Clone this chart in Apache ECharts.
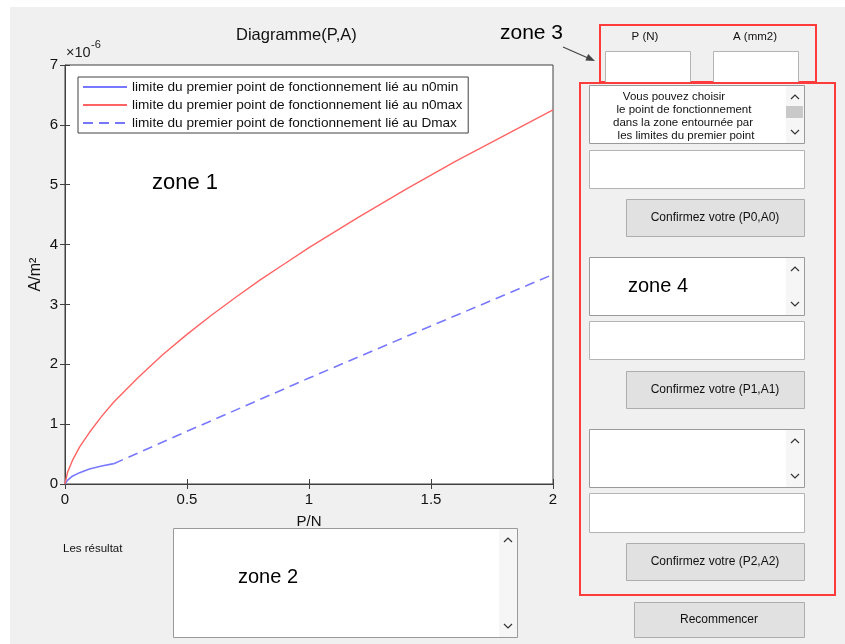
<!DOCTYPE html>
<html>
<head>
<meta charset="utf-8">
<script src="https://cdn.jsdelivr.net/npm/echarts@6/dist/echarts.min.js"></script>
<style>
html,body{margin:0;padding:0;background:#fff;}
#chart{width:845px;height:644px;}
</style>
</head>
<body>
<div id="chart"></div>
<script>
// ---- data (A in units of 1e-6) ----
const xTicks = [0, 0.5, 1, 1.5, 2];
const yTicks = [0, 1, 2, 3, 4, 5, 6, 7];
const seriesNames = [
  'limite du premier point de fonctionnement lié au n0min',
  'limite du premier point de fonctionnement lié au n0max',
  'limite du premier point de fonctionnement lié au Dmax'
];
const pMin = [0, 0.01, 0.03, 0.06, 0.1, 0.15, 0.2];
const aMin = [0, 0.06, 0.13, 0.19, 0.25, 0.30, 0.34];
const pMax = [0, 0.01, 0.03, 0.06, 0.1, 0.15, 0.2, 0.3, 0.4, 0.5, 0.6, 0.7, 0.8, 0.9, 1.0, 1.2, 1.4, 1.6, 1.8, 2.0];
const aMax = [0, 0.19, 0.39, 0.62, 0.86, 1.13, 1.37, 1.78, 2.16, 2.50, 2.82, 3.12, 3.41, 3.68, 3.95, 4.45, 4.93, 5.39, 5.82, 6.25];
const pD = [0.2, 0.5, 1.0, 1.5, 2.0];
const aD = [0.34, 0.88, 1.77, 2.64, 3.50];

const zip = (xs, ys) => xs.map((x, i) => [x, ys[i]]);
const FONT = 'Liberation Sans';
const AX = '#404040';

// ---- GUI decoration helpers ----
const G = [];
function rect(x, y, w, h, fill, stroke, lw) {
  G.push({type: 'rect', shape: {x: x, y: y, width: w, height: h},
    style: {fill: fill, stroke: stroke || null, lineWidth: lw || 1}, silent: true});
}
function text(x, y, t, size, align, color) {
  G.push({type: 'text', x: x, y: y, silent: true,
    style: {text: t, font: size + 'px ' + FONT, fill: color || '#111',
      textAlign: align || 'left', textVerticalAlign: 'middle'}});
}
function chevron(x, y, up) {
  const d = up ? -2 : 2;
  G.push({type: 'polyline', silent: true,
    shape: {points: [[x - 4, y - d], [x, y + d], [x + 4, y - d]]},
    style: {stroke: '#333', lineWidth: 1.2, fill: null}});
}
function listBox(x, y, w, h) {
  rect(x + 0.5, y + 0.5, w, h, '#fff', '#9a9a9a', 1);
  rect(x + w - 18, y + 1, 18, h - 1, '#f6f6f6', null);
  chevron(x + w - 9, y + 12, true);
  chevron(x + w - 9, y + h - 11, false);
}
function editBox(x, y, w, h) { rect(x + 0.5, y + 0.5, w, h, '#fff', '#b4b4b4', 1); }
function button(x, y, w, h, label) {
  rect(x + 0.5, y + 0.5, w, h, '#e1e1e1', '#adadad', 1);
  text(x + w / 2, y + h / 2, label, 12, 'center', '#111');
}

// white borders of the screenshot
rect(0, 0, 845, 7, '#fff');
rect(0, 0, 10, 644, '#fff');

// zone labels and annotations
text(236, 35, 'Diagramme(P,A)', 16.5, 'left', '#111');
text(66, 53, '×10', 14.5, 'left', '#222');
text(91, 45, '-6', 11, 'left', '#222');
text(152, 183, 'zone 1', 22, 'left', '#000');
text(500, 33, 'zone 3', 21, 'left', '#000');
G.push({type: 'line', silent: true, shape: {x1: 563, y1: 47, x2: 588, y2: 58},
  style: {stroke: '#444', lineWidth: 1.2}});
G.push({type: 'polygon', silent: true, shape: {points: [[595, 61], [585.4, 60.6], [588.2, 54.1]]},
  style: {fill: '#444'}});

// zone 2
text(63, 549, 'Les résultat', 11.5, 'left', '#111');
listBox(173, 528, 344, 109);
text(238, 577, 'zone 2', 20, 'left', '#000');

// zone 3
rect(600, 25, 216, 57, null, '#ff3b3b', 2);
text(645, 37, 'P (N)', 11.5, 'center', '#111');
text(755, 37, 'A (mm2)', 11.5, 'center', '#111');
editBox(605, 51, 85, 31);
editBox(713, 51, 85, 31);

// zone 4
rect(580, 83, 255, 512, null, '#ff3b3b', 2);
listBox(589, 85, 215, 58);
rect(786, 106, 17, 12, '#c9c9c9', null);
text(674, 97, 'Vous pouvez choisir', 11.5, 'center', '#111');
text(684, 110, 'le point de fonctionnement', 11.5, 'center', '#111');
text(683, 123, 'dans la zone entournée par', 11.5, 'center', '#111');
text(686, 136, 'les limites du premier point', 11.5, 'center', '#111');
editBox(589, 150, 215, 38);
button(626, 199, 178, 37, 'Confirmez votre (P0,A0)');

listBox(589, 257, 215, 58);
text(628, 286, 'zone 4', 20, 'left', '#000');
editBox(589, 321, 215, 38);
button(626, 371, 178, 37, 'Confirmez votre (P1,A1)');

listBox(589, 429, 215, 58);
editBox(589, 493, 215, 39);
button(626, 543, 178, 37, 'Confirmez votre (P2,A2)');

button(634, 602, 170, 35, 'Recommencer');

const chart = echarts.init(document.getElementById('chart'), null, {renderer: 'canvas'});
chart.setOption({
  backgroundColor: '#f0f0f0',
  animation: false,
  textStyle: {fontFamily: FONT},
  grid: {left: 65, top: 65, width: 488, height: 419, show: true,
    backgroundColor: '#fff', borderColor: AX, borderWidth: 1, containLabel: false},
  legend: {
    orient: 'vertical', left: 78, top: 77,
    padding: [3, 6, 3, 4], itemGap: 4, itemWidth: 44, itemHeight: 14,
    backgroundColor: '#fff', borderColor: AX, borderWidth: 1,
    itemStyle: {opacity: 0},
    textStyle: {fontSize: 13.6, color: '#111', fontFamily: FONT},
    data: seriesNames
  },
  xAxis: [{
    type: 'value', min: xTicks[0], max: xTicks[xTicks.length - 1], interval: 0.5,
    name: 'P/N', nameLocation: 'middle', nameGap: 30,
    nameTextStyle: {fontSize: 15, color: '#111'},
    axisLine: {show: true, lineStyle: {color: AX}},
    axisTick: {show: true, inside: true, length: 5, lineStyle: {color: AX}},
    axisLabel: {margin: 8, fontSize: 15, color: '#111', formatter: v => String(v)},
    splitLine: {show: false}
  }, {
    type: 'value', position: 'top', min: 0, max: 2, interval: 0.5,
    axisLine: {show: false}, axisLabel: {show: false},
    axisTick: {show: true, inside: true, length: 5, lineStyle: {color: AX}},
    splitLine: {show: false}
  }],
  yAxis: [{
    type: 'value', min: yTicks[0], max: yTicks[yTicks.length - 1], interval: 1,
    name: 'A/m²', nameLocation: 'middle', nameGap: 21, nameRotate: 90,
    nameMoveOverlap: false,
    nameTextStyle: {fontSize: 16, color: '#111'},
    axisLine: {show: true, lineStyle: {color: AX}},
    axisTick: {show: true, inside: true, length: 5, lineStyle: {color: AX}},
    axisLabel: {margin: 7, fontSize: 15, color: '#111'},
    splitLine: {show: false}
  }, {
    type: 'value', position: 'right', min: 0, max: 7, interval: 1,
    axisLine: {show: false}, axisLabel: {show: false},
    axisTick: {show: true, inside: true, length: 5, lineStyle: {color: AX}},
    splitLine: {show: false}
  }],
  series: [{
    name: seriesNames[0], type: 'line', data: zip(pMin, aMin), symbol: 'none',
    lineStyle: {color: '#7878ff', width: 1.6}, itemStyle: {color: '#7878ff'}
  }, {
    name: seriesNames[1], type: 'line', data: zip(pMax, aMax), symbol: 'none',
    lineStyle: {color: '#ff6464', width: 1.4}, itemStyle: {color: '#ff6464'}
  }, {
    name: seriesNames[2], type: 'line', data: zip(pD, aD), symbol: 'none',
    lineStyle: {color: '#7878ff', width: 1.6, type: [10, 6]}, itemStyle: {color: '#7878ff'}
  }],
  graphic: G
});
</script>
</body>
</html>
